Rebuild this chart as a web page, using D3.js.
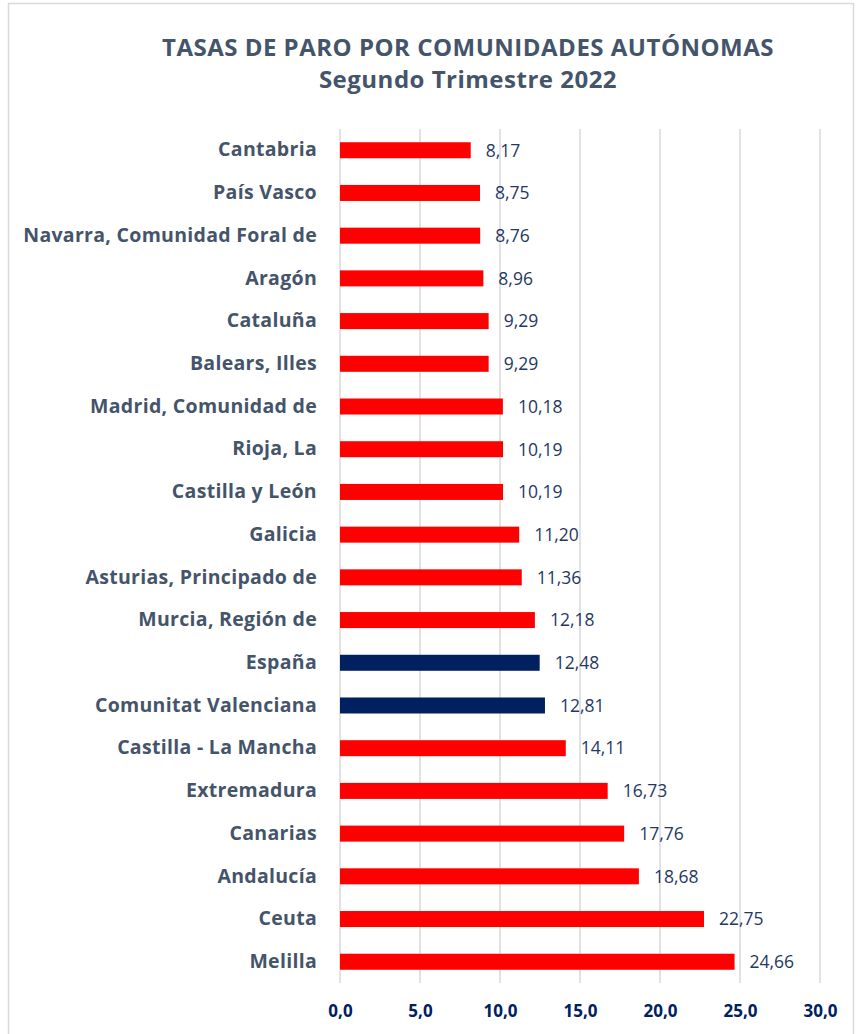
<!DOCTYPE html>
<html>
<head>
<meta charset="utf-8">
<script src="https://cdn.jsdelivr.net/npm/d3@7"></script>
<style>
  body { margin: 0; background: #fff; }
  text { font-family: "Open Sans", sans-serif; }
</style>
</head>
<body>
<script>
var regiones = ["Cantabria", "País Vasco", "Navarra, Comunidad Foral de", "Aragón", "Cataluña",
  "Balears, Illes", "Madrid, Comunidad de", "Rioja, La", "Castilla y León", "Galicia",
  "Asturias, Principado de", "Murcia, Región de", "España", "Comunitat Valenciana",
  "Castilla - La Mancha", "Extremadura", "Canarias", "Andalucía", "Ceuta", "Melilla"]
var tasas = [8.17, 8.75, 8.76, 8.96, 9.29, 9.29, 10.18, 10.19, 10.19, 11.20,
  11.36, 12.18, 12.48, 12.81, 14.11, 16.73, 17.76, 18.68, 22.75, 24.66]
var destacadas = ["España", "Comunitat Valenciana"]
var ticks = [0, 5, 10, 15, 20, 25, 30]

var width = 856, height = 1034
var margins = {top: 129, right: 36, bottom: 51, left: 340}

var data = regiones.map(function(r, i){ return {name: r, value: tasas[i]} })
var coma = function(v, n){ return v.toFixed(n).replace(".", ",") }

var svg = d3.select("body").append("svg")
  .attr("width", width).attr("height", height)

// marco del gráfico
svg.append("rect")
  .attr("x", 8.5).attr("y", 3.5)
  .attr("width", 845).attr("height", 1040)
  .attr("fill", "none").attr("stroke", "#d9d9d9").attr("stroke-width", 1.5)

var scaleX = d3.scaleLinear().domain([0, 30]).range([margins.left, width - margins.right])
var scaleY = d3.scaleBand().domain(regiones)
  .range([margins.top, height - margins.bottom]).paddingInner(0.625).paddingOuter(0.31)

// rejilla
svg.append("g").selectAll("line")
  .data(ticks).enter().append("line")
  .attr("x1", function(d){ return scaleX(d) }).attr("x2", function(d){ return scaleX(d) })
  .attr("y1", margins.top).attr("y2", height - margins.bottom)
  .attr("stroke", "#d9d9d9").attr("stroke-width", 1.5)

// eje X
var axisX = svg.append("g")
  .attr("transform", "translate(0," + (height - margins.bottom) + ")")
  .call(d3.axisBottom(scaleX).tickValues(ticks).tickSize(0).tickPadding(0)
    .tickFormat(function(d){ return coma(d, 1) }))
axisX.select(".domain").remove()
axisX.selectAll("text")
  .attr("y", 34).attr("dy", null)
  .attr("font-family", "'Open Sans', sans-serif")
  .attr("font-size", 17).attr("font-weight", "bold").attr("fill", "#002060")

// eje Y
var axisY = svg.append("g")
  .attr("transform", "translate(" + (margins.left - 23) + ",0)")
  .call(d3.axisLeft(scaleY).tickSize(0).tickPadding(0))
axisY.select(".domain").remove()
axisY.selectAll("text")
  .attr("font-family", "'Open Sans', sans-serif")
  .attr("font-size", 19.5).attr("letter-spacing", 0.3)
  .attr("font-weight", "bold").attr("fill", "#44546a")

// barras
svg.append("g").selectAll("rect")
  .data(data).enter().append("rect")
  .attr("x", scaleX(0))
  .attr("y", function(d){ return scaleY(d.name) })
  .attr("width", function(d){ return scaleX(d.value) - scaleX(0) })
  .attr("height", scaleY.bandwidth())
  .attr("fill", function(d){ return destacadas.indexOf(d.name) >= 0 ? "#002060" : "#ff0000" })

// etiquetas de valor
svg.append("g").selectAll("text")
  .data(data).enter().append("text")
  .attr("x", function(d){ return scaleX(d.value) + 15 })
  .attr("y", function(d){ return scaleY(d.name) + scaleY.bandwidth() / 2 })
  .attr("dy", "0.36em")
  .attr("font-size", 17.5).attr("fill", "#1f3864")
  .text(function(d){ return coma(d.value, 2) })

// título
var title = svg.append("text")
  .attr("x", 468).attr("text-anchor", "middle")
  .attr("font-size", 24).attr("letter-spacing", 0.5)
  .attr("font-weight", "bold").attr("fill", "#44546a")
title.append("tspan").attr("x", 468).attr("y", 56).text("TASAS DE PARO POR COMUNIDADES AUTÓNOMAS")
title.append("tspan").attr("x", 468).attr("y", 88).text("Segundo Trimestre 2022")
</script>
</body>
</html>
